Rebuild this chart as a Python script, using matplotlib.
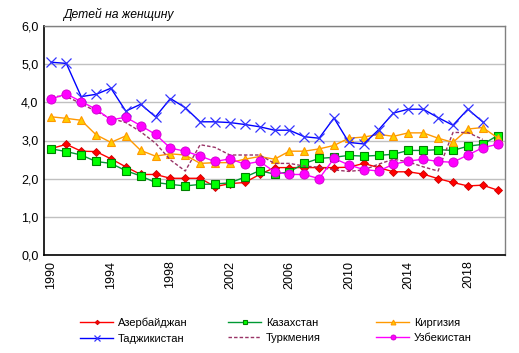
import numpy as np
import matplotlib
matplotlib.use("Agg")
import matplotlib.pyplot as plt

plt.rcParams['font.family'] = ['Liberation Sans', 'DejaVu Sans']

years = list(range(1990, 2021))
nan = np.nan

azerbaijan = [2.79, 2.90, 2.72, 2.71, 2.52, 2.31, 2.11, 2.11, 2.01, 2.01, 2.01, 1.79, 1.87, 1.90, 2.11, 2.29,
              2.29, 2.29, 2.29, 2.29, 2.30, 2.40, 2.29, 2.18, 2.18, 2.12, 2.00, 1.90, 1.81, 1.83, 1.70]
kazakhstan = [2.78, 2.71, 2.62, 2.45, 2.40, 2.21, 2.07, 1.90, 1.85, 1.81, 1.85, 1.86, 1.89, 2.04, 2.21, 2.12,
              2.18, 2.40, 2.53, 2.56, 2.61, 2.59, 2.61, 2.64, 2.74, 2.74, 2.76, 2.74, 2.85, 2.90, 3.13]
kyrgyzstan = [3.62, 3.58, 3.53, 3.15, 2.95, 3.12, 2.74, 2.59, 2.65, 2.62, 2.40, 2.42, 2.42, 2.51, 2.58, 2.51,
              2.72, 2.72, 2.78, 2.87, 3.06, 3.09, 3.16, 3.11, 3.20, 3.20, 3.06, 2.95, 3.30, 3.34, 3.07]
tajikistan = [5.05, 5.02, 4.15, 4.21, 4.37, 3.77, 3.95, 3.62, 4.10, 3.86, 3.49, 3.49, 3.47, 3.42, 3.36, 3.27,
              3.27, 3.10, 3.06, 3.59, 2.95, 2.91, 3.28, 3.72, 3.82, 3.82, 3.60, 3.40, 3.82, 3.49, nan]
turkmenistan = [4.16, 4.15, 3.97, 3.76, 3.58, 3.47, 3.23, 2.93, 2.49, 2.20, 2.89, 2.82, 2.62, 2.62, 2.62, 2.40,
                2.40, 2.33, 2.30, 2.23, 2.19, 2.23, 2.38, 2.51, 2.44, 2.31, 2.20, 3.21, 3.21, 3.03, nan]
uzbekistan = [4.09, 4.22, 4.02, 3.82, 3.54, 3.61, 3.39, 3.16, 2.80, 2.72, 2.59, 2.45, 2.52, 2.38, 2.45, 2.18,
              2.11, 2.11, 2.00, 2.53, 2.36, 2.24, 2.20, 2.38, 2.46, 2.51, 2.45, 2.43, 2.62, 2.81, 2.90]

names = ["Азербайджан", "Казахстан", "Киргизия", "Таджикистан", "Туркмения", "Узбекистан"]
yticks = [0, 1, 2, 3, 4, 5, 6]
ytick_labels = ["0,0", "1,0", "2,0", "3,0", "4,0", "5,0", "6,0"]
xticks = [1990, 1994, 1998, 2002, 2006, 2010, 2014, 2018]

fig = plt.figure(figsize=(5.19, 3.53), dpi=100)
ax = fig.add_axes([44/519, 1-255/353, (505-44)/519, (255-26)/353])

h = {}
h["Азербайджан"], = ax.plot(years, azerbaijan, color="#FF0000", lw=1.0, marker="D", ms=4.2,
                            mfc="#FF0000", mec="#CC0000", mew=0.6)
h["Казахстан"], = ax.plot(years, kazakhstan, color="#009933", lw=1.0, marker="s", ms=6.0,
                          mfc="#00FF00", mec="#008000", mew=0.8)
h["Киргизия"], = ax.plot(years, kyrgyzstan, color="#FF9900", lw=1.0, marker="^", ms=6.3,
                         mfc="#FFCC00", mec="#FF9900", mew=0.8)
h["Таджикистан"], = ax.plot(years, tajikistan, color="#0000FF", lw=1.0, marker="x", ms=7,
                            mec="#3333FF", mew=0.9)
h["Туркмения"], = ax.plot(years, turkmenistan, color="#993366", lw=1.0, ls=(0, (2.5, 1.5)))
h["Узбекистан"], = ax.plot(years, uzbekistan, color="#FF00FF", lw=1.0, marker="o", ms=6.6,
                           mfc="#FF00FF", mec="#CC00CC", mew=0.6)

ax.set_xlim(1989.5, 2020.5)
ax.set_ylim(0, 6)
ax.set_yticks(yticks)
ax.set_yticklabels(ytick_labels, fontsize=9)
ax.set_xticks(xticks)
ax.set_xticklabels([str(x) for x in xticks], rotation=90, fontsize=9)
ax.tick_params(axis='both', length=0, pad=4)
ax.yaxis.grid(True, color="#C0C0C0", lw=1.0)
ax.set_axisbelow(True)
for s in ["top", "right"]:
    ax.spines[s].set_color("#808080")
    ax.spines[s].set_linewidth(1.0)
for s in ["left", "bottom"]:
    ax.spines[s].set_color("#000000")
    ax.spines[s].set_linewidth(1.2)

fig.text(63/519, 1-14/353, "Детей на женщину", fontsize=8.7, style="italic", ha="left", va="center")

columns = [["Азербайджан", "Таджикистан"], ["Казахстан", "Туркмения"], ["Киргизия", "Узбекистан"]]
col_x = [80, 228, 376]
for xs, col in zip(col_x, columns):
    leg = fig.legend([h[n] for n in col], col, loc="center left",
                     bbox_to_anchor=(xs/519, 1-330.5/353), ncol=1,
                     frameon=False, fontsize=8, handlelength=3.0, handletextpad=0.4,
                     markerscale=0.55, labelspacing=0.5, borderpad=0, borderaxespad=0)

fig.savefig("out.png", dpi=100)
